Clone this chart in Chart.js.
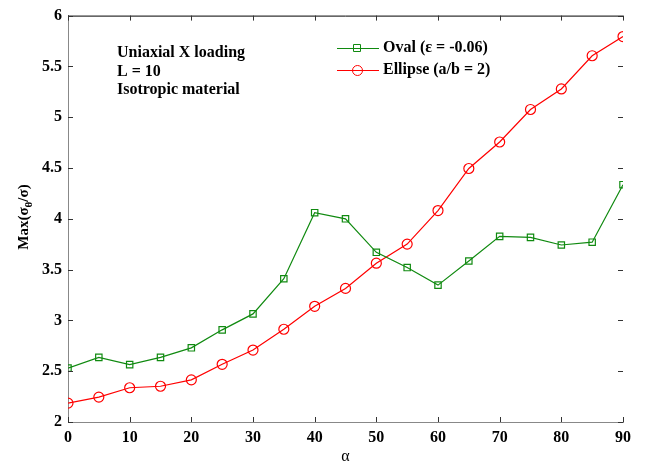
<!DOCTYPE html>
<html>
<head>
<meta charset="utf-8">
<script src="https://cdn.jsdelivr.net/npm/chart.js@4/dist/chart.umd.min.js"></script>
<style>
  html, body { margin: 0; padding: 0; background: #fff; }
  #wrap { width: 646px; height: 466px; position: relative; }
</style>
</head>
<body>
<div id="wrap"><canvas id="stressChart" width="646" height="466"></canvas></div>
<script>
// angle alpha (deg) and peak hoop stress concentration
const angles = [0, 5, 10, 15, 20, 25, 30, 35, 40, 45, 50, 55, 60, 65, 70, 75, 80, 85, 90];
const ovalValues = [2.53, 2.636, 2.565, 2.636, 2.73, 2.907, 3.064, 3.41, 4.06, 4.0, 3.67, 3.52, 3.347, 3.585, 3.827, 3.817, 3.742, 3.77, 4.336];
const ellipseValues = [2.186, 2.245, 2.337, 2.352, 2.415, 2.568, 2.708, 2.913, 3.139, 3.315, 3.563, 3.751, 4.081, 4.495, 4.756, 5.076, 5.278, 5.605, 5.794];
const xTicks = [0, 10, 20, 30, 40, 50, 60, 70, 80, 90];
const yTicks = [2, 2.5, 3, 3.5, 4, 4.5, 5, 5.5, 6];
const seriesNames = ['Oval (\u03b5 = -0.06)', 'Ellipse (a/b = 2)'];
const noteLines = ['Uniaxial X loading', 'L = 10', 'Isotropic material'];

const GREEN = '#108a10';
const RED = '#ff0000';
const SERIF = '"Liberation Serif", "DejaVu Serif", serif';

const toPoints = (vals) => vals.map((v, i) => ({ x: angles[i], y: v }));

// box, inward ticks, labels and legend drawn on top of the plot
const decorations = {
  id: 'decorations',
  afterDraw(chart) {
    const { ctx, chartArea: a, scales } = chart;
    const tk = 5;
    ctx.save();
    ctx.lineWidth = 1;

    // top edge
    ctx.strokeStyle = '#000';
    ctx.beginPath();
    ctx.moveTo(a.left, a.top + 0.5);
    ctx.lineTo(a.right, a.top + 0.5);
    ctx.stroke();

    // inward ticks
    ctx.strokeStyle = '#333';
    ctx.beginPath();
    xTicks.forEach((t) => {
      const px = Math.round(scales.x.getPixelForValue(t)) + 0.5;
      ctx.moveTo(px, a.bottom); ctx.lineTo(px, a.bottom - tk);
      ctx.moveTo(px, a.top); ctx.lineTo(px, a.top + tk);
    });
    yTicks.forEach((t) => {
      const py = Math.round(scales.y.getPixelForValue(t)) + 0.5;
      ctx.moveTo(a.left, py); ctx.lineTo(a.left + tk, py);
      ctx.moveTo(a.right, py); ctx.lineTo(a.right - tk, py);
    });
    ctx.stroke();

    // note text
    ctx.fillStyle = '#000';
    ctx.font = 'bold 16px ' + SERIF;
    ctx.textBaseline = 'middle';
    ctx.textAlign = 'left';
    noteLines.forEach((s, i) => ctx.fillText(s, 117, 53 + i * 18.5));

    // legend
    const rows = [
      { name: seriesNames[0], color: GREEN, style: 'rect', y: 48 },
      { name: seriesNames[1], color: RED, style: 'circle', y: 70 }
    ];
    rows.forEach((r) => {
      ctx.strokeStyle = r.color;
      ctx.beginPath();
      ctx.moveTo(337, r.y + 0.5);
      ctx.lineTo(379, r.y + 0.5);
      ctx.stroke();
      ctx.beginPath();
      if (r.style === 'rect') {
        ctx.rect(353.5, r.y - 3.5, 7, 7);
      } else {
        ctx.arc(357.5, r.y + 0.5, 5, 0, Math.PI * 2);
      }
      ctx.stroke();
      ctx.fillStyle = '#000';
      ctx.fillText(r.name, 383, r.y);
    });

    // axis titles
    ctx.font = '16px ' + SERIF;
    ctx.textAlign = 'center';
    ctx.fillText('\u03b1', (a.left + a.right) / 2, 457);

    ctx.translate(24, 217);
    ctx.rotate(-Math.PI / 2);
    ctx.font = 'bold 15px ' + SERIF;
    ctx.textAlign = 'left';
    const p1 = 'Max(\u03c3', p3 = '/\u03c3)';
    const w1 = ctx.measureText(p1).width;
    ctx.font = 'bold 11px ' + SERIF;
    const w2 = ctx.measureText('\u03b8').width;
    ctx.font = 'bold 15px ' + SERIF;
    const w3 = ctx.measureText(p3).width;
    let x0 = -(w1 + w2 + w3) / 2;
    ctx.fillText(p1, x0, 0);
    ctx.font = 'bold 11px ' + SERIF;
    ctx.fillText('\u03b8', x0 + w1, 5);
    ctx.font = 'bold 15px ' + SERIF;
    ctx.fillText(p3, x0 + w1 + w2, 0);
    ctx.restore();
  }
};

new Chart(document.getElementById('stressChart').getContext('2d'), {
  type: 'line',
  data: {
    datasets: [
      {
        label: seriesNames[0],
        data: toPoints(ovalValues),
        borderColor: GREEN,
        borderWidth: 1.2,
        pointStyle: 'rect',
        pointRadius: 4.5,
        pointBorderColor: GREEN,
        pointBackgroundColor: 'rgba(0,0,0,0)',
        pointBorderWidth: 1.2,
        tension: 0
      },
      {
        label: seriesNames[1],
        data: toPoints(ellipseValues),
        borderColor: RED,
        borderWidth: 1.2,
        pointStyle: 'circle',
        pointRadius: 5,
        pointBorderColor: RED,
        pointBackgroundColor: 'rgba(0,0,0,0)',
        pointBorderWidth: 1.2,
        tension: 0
      }
    ]
  },
  options: {
    responsive: false,
    animation: false,
    events: [],
    layout: { padding: { top: 13, right: 23, left: 0, bottom: 0 } },
    plugins: {
      legend: { display: false },
      tooltip: { enabled: false }
    },
    scales: {
      x: {
        type: 'linear',
        min: 0,
        max: 90,
        afterBuildTicks: (s) => { s.ticks = xTicks.map((v) => ({ value: v })); },
        afterFit: (s) => { s.height = 44; },
        grid: { display: false, drawTicks: false },
        border: { display: true, color: '#888', width: 1 },
        ticks: {
          color: '#000',
          padding: 6,
          maxRotation: 0,
          font: { family: SERIF, size: 16, weight: 'bold' }
        }
      },
      y: {
        type: 'linear',
        min: 2,
        max: 6,
        afterBuildTicks: (s) => { s.ticks = yTicks.map((v) => ({ value: v })); },
        afterFit: (s) => { s.width = 68; },
        grid: { display: false, drawTicks: false },
        border: { display: true, color: '#888', width: 1 },
        ticks: {
          color: '#000',
          padding: 6,
          font: { family: SERIF, size: 16, weight: 'bold' },
          callback: (v) => String(v)
        }
      }
    }
  },
  plugins: [decorations]
});
</script>
</body>
</html>
